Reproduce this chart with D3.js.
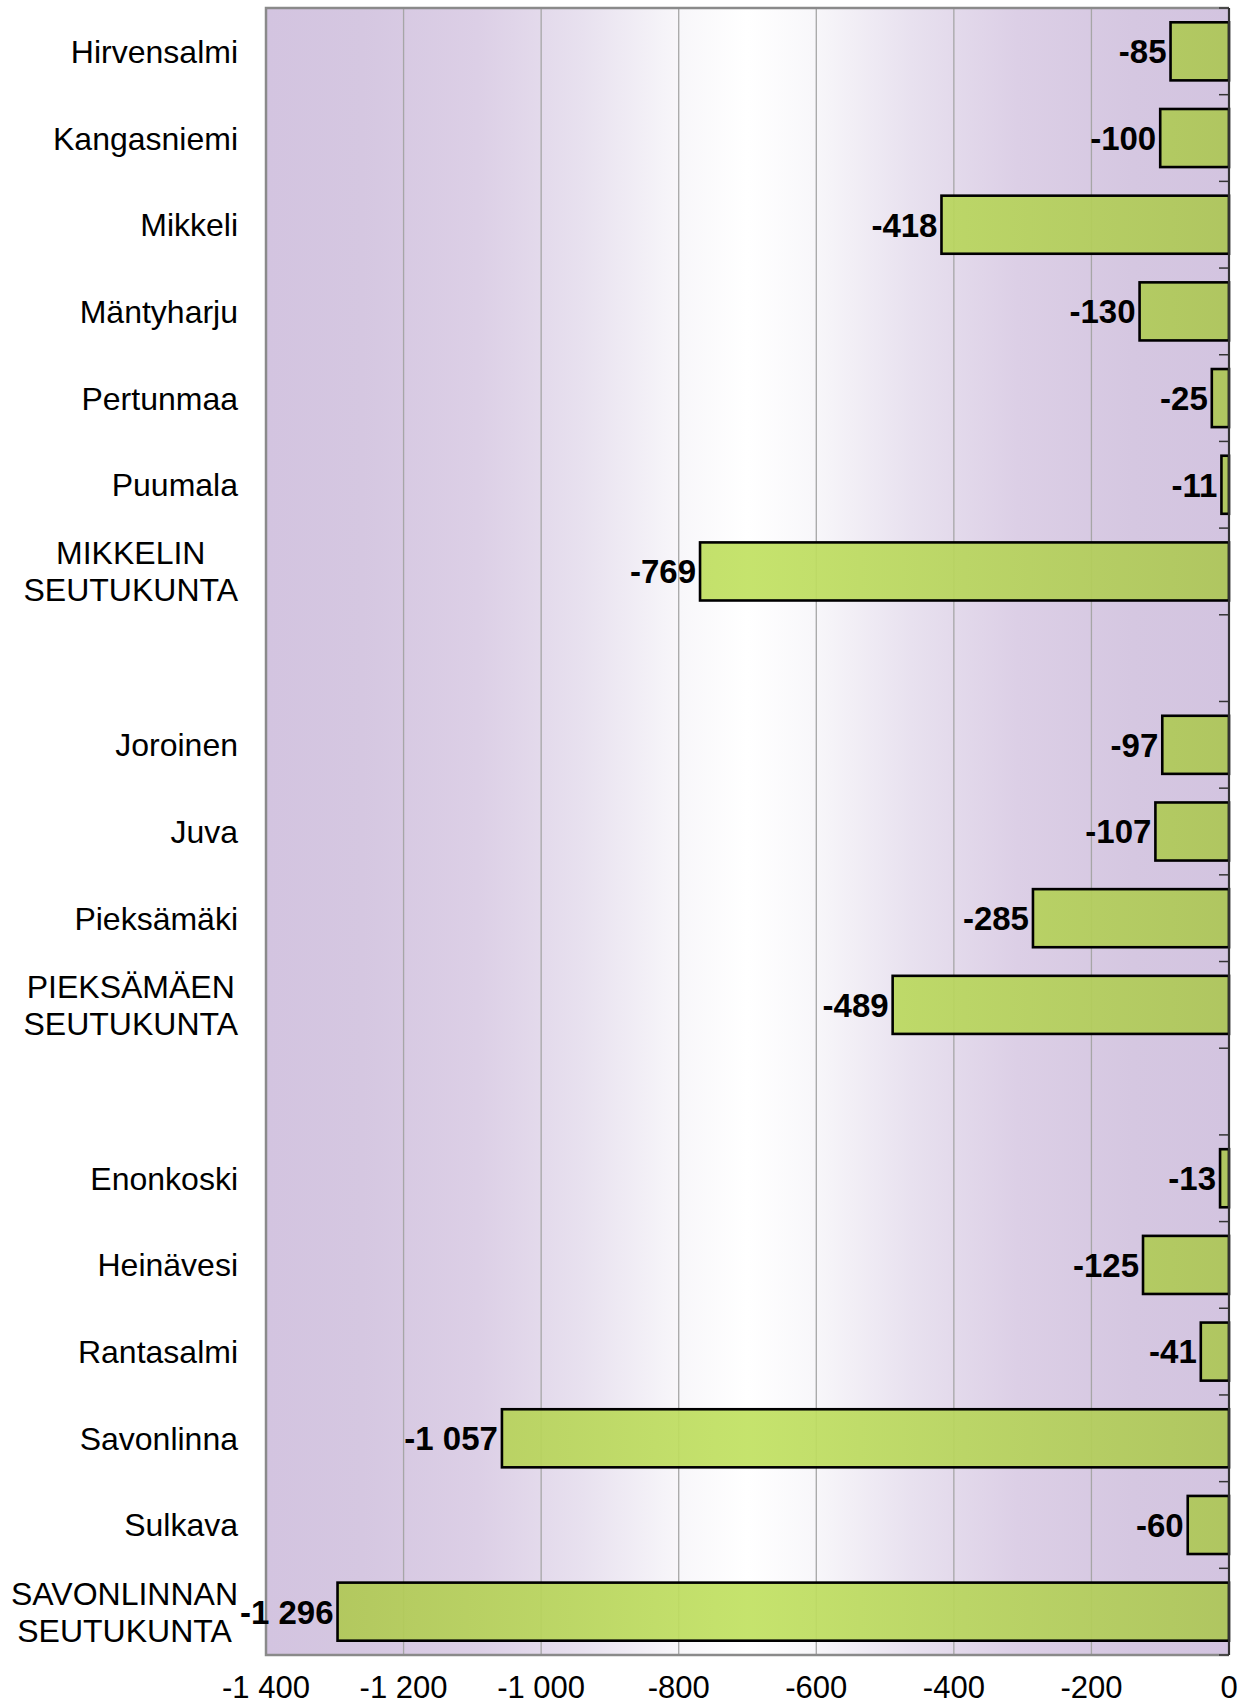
<!DOCTYPE html>
<html>
<head>
<meta charset="utf-8">
<script src="https://cdn.jsdelivr.net/npm/d3@7"></script>
<style>
  html, body { margin: 0; padding: 0; background: #ffffff; }
  svg { display: block; font-family: "Liberation Sans", Arial, sans-serif; }
</style>
</head>
<body>
<svg id="chart" width="1246" height="1707"></svg>
<script>
// ---- data ----
const categories = [
  "Hirvensalmi", "Kangasniemi", "Mikkeli", "Mäntyharju", "Pertunmaa", "Puumala",
  "MIKKELIN\nSEUTUKUNTA", "",
  "Joroinen", "Juva", "Pieksämäki", "PIEKSÄMÄEN\nSEUTUKUNTA", " ",
  "Enonkoski", "Heinävesi", "Rantasalmi", "Savonlinna", "Sulkava",
  "SAVONLINNAN\nSEUTUKUNTA"
];
const values = [
  -85, -100, -418, -130, -25, -11,
  -769, null,
  -97, -107, -285, -489, null,
  -13, -125, -41, -1057, -60,
  -1296
];
const tickValues = [-1400, -1200, -1000, -800, -600, -400, -200, 0];

// ---- layout ----
const svg = d3.select("#chart");
const pLeft = 266, pRight = 1229, pTop = 8, pBottom = 1655;

const locale = d3.formatLocale({decimal: ",", thousands: "\u00a0", grouping: [3], currency: ["", "€"], minus: "-"});
const fmt = locale.format(",d");

const x = d3.scaleLinear().domain([-1400, 0]).range([pLeft, pRight]);
const y = d3.scaleBand().domain(categories.map((c, i) => i)).range([pTop, pBottom]).paddingInner(0.33).paddingOuter(0.165);
const yOuter = d3.scaleBand().domain(categories.map((c, i) => i)).range([pTop, pBottom]);

const defs = svg.append("defs");
const bg = defs.append("linearGradient").attr("id", "bgGrad")
  .attr("gradientUnits", "userSpaceOnUse").attr("x1", pLeft).attr("x2", pRight).attr("y1", 0).attr("y2", 0);
[[0, "#d3c4e0"], [0.1, "#d5c7e1"], [0.22, "#dccfe6"], [0.33, "#e8e1ef"], [0.43, "#f8f7fa"], [0.5, "#ffffff"],
 [0.57, "#f8f7fa"], [0.67, "#e8e1ef"], [0.78, "#dccfe6"], [0.9, "#d5c7e1"], [1, "#d3c4e0"]]
  .forEach(([o, c]) => bg.append("stop").attr("offset", o).attr("stop-color", c));

const bar = defs.append("linearGradient").attr("id", "barGrad")
  .attr("gradientUnits", "userSpaceOnUse").attr("x1", pLeft).attr("x2", pRight).attr("y1", 0).attr("y2", 0);
[[0, "#adc453"], [0.5, "#c1e162"], [1, "#adc657"]]
  .forEach(([o, c]) => bar.append("stop").attr("offset", o).attr("stop-color", c));

// plot background
svg.append("rect").attr("x", pLeft).attr("y", pTop).attr("width", pRight - pLeft).attr("height", pBottom - pTop)
  .attr("fill", "url(#bgGrad)");

// gridlines
svg.append("g").selectAll("line").data(tickValues.filter(v => v > -1400 && v < 0)).join("line")
  .attr("x1", d => x(d)).attr("x2", d => x(d)).attr("y1", pTop).attr("y2", pBottom)
  .attr("stroke", "#a6a6a6").attr("stroke-width", 1.3);

// frame (left, top, bottom)
svg.append("path")
  .attr("d", `M${pRight},${pTop}H${pLeft}V${pBottom}H${pRight}`)
  .attr("fill", "none").attr("stroke", "#8a8a8a").attr("stroke-width", 2.5);

// bars
const data = categories.map((c, i) => ({c, i, v: values[i]})).filter(d => d.v !== null);
svg.append("g").selectAll("rect").data(data).join("rect")
  .attr("x", d => x(d.v)).attr("y", d => y(d.i))
  .attr("width", d => x(0) - x(d.v)).attr("height", y.bandwidth())
  .attr("fill", "url(#barGrad)").attr("fill-opacity", 0.93)
  .attr("stroke", "#000").attr("stroke-width", 2.6);

// value labels
svg.append("g").selectAll("text").data(data).join("text")
  .attr("x", d => x(d.v) - 4).attr("y", d => y(d.i) + y.bandwidth() / 2)
  .attr("dy", "0.36em").attr("text-anchor", "end")
  .attr("font-size", 33).attr("font-weight", "bold").attr("fill", "#000")
  .text(d => fmt(d.v));

// right axis (category axis at zero)
const axisR = svg.append("g").attr("transform", `translate(${pRight},0)`);
axisR.append("line").attr("x1", 0).attr("x2", 0).attr("y1", pTop).attr("y2", pBottom)
  .attr("stroke", "#333").attr("stroke-width", 2.2);
const boundaries = categories.map((c, i) => yOuter(i)).concat([pBottom]);
axisR.selectAll("line.tk").data(boundaries).join("line").attr("class", "tk")
  .attr("x1", -10).attr("x2", 0).attr("y1", d => d).attr("y2", d => d)
  .attr("stroke", "#333").attr("stroke-width", 1.5);

// category labels
const labG = svg.append("g");
categories.forEach((c, i) => {
  const lines = c.trim() ? c.split("\n") : [];
  if (!lines.length) return;
  const cy = yOuter(i) + yOuter.bandwidth() / 2;
  const lh = 37;
  const t = labG.append("text").attr("font-size", 32).attr("fill", "#000");
  const spans = lines.map((ln, k) => t.append("tspan").text(ln)
    .attr("y", cy + (k - (lines.length - 1) / 2) * lh).attr("dy", "0.36em"));
  const widths = spans.map(s => s.node().getComputedTextLength());
  const maxW = d3.max(widths);
  const rightEdge = 238;
  const center = rightEdge - maxW / 2;
  spans.forEach(s => s.attr("x", center).attr("text-anchor", "middle"));
});

// bottom tick labels
svg.append("g").selectAll("text").data(tickValues).join("text")
  .attr("x", d => x(d)).attr("y", 1687).attr("dy", "0.36em")
  .attr("text-anchor", "middle").attr("font-size", 31).attr("fill", "#000")
  .text(d => fmt(d));
</script>
</body>
</html>
